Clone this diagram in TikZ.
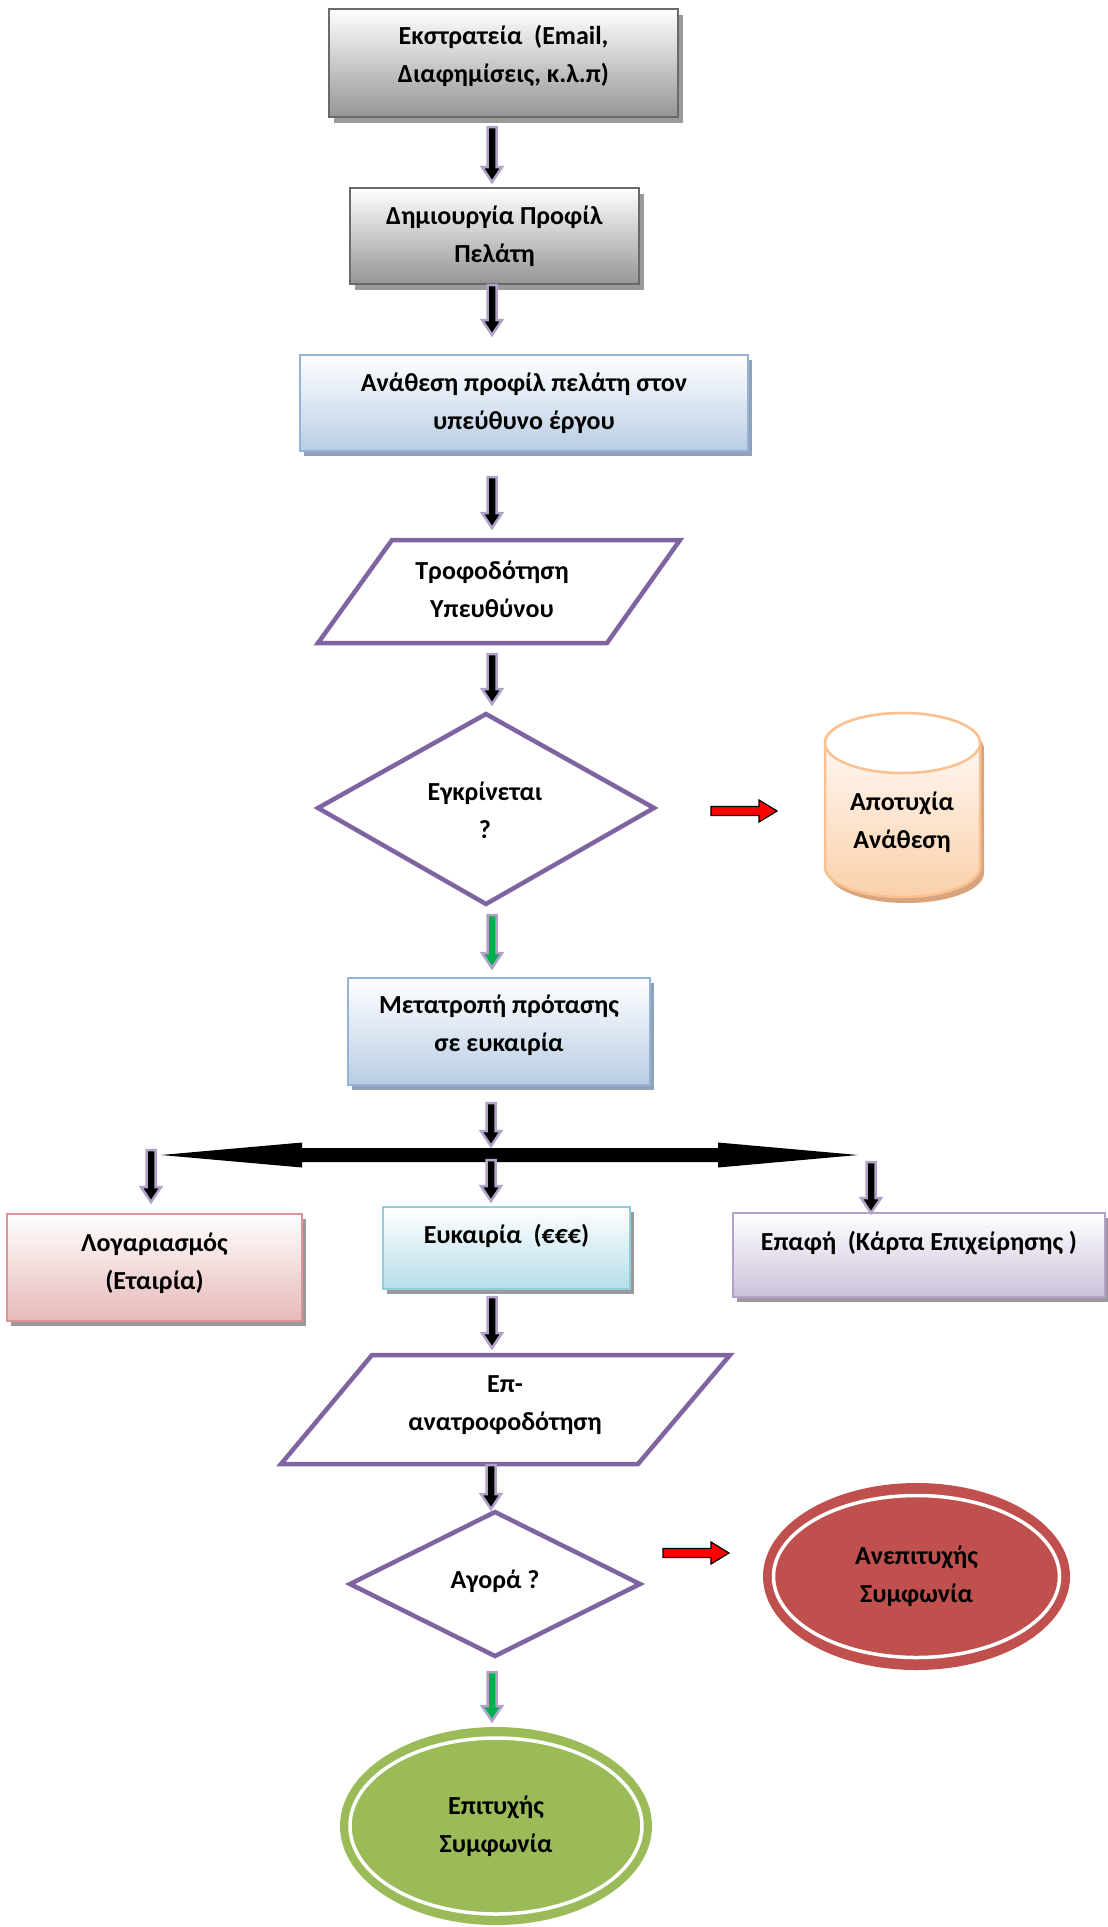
\documentclass[tikz,border=0pt]{standalone}
\usepackage{fontspec}
\setmainfont{Carlito}
\usetikzlibrary{shadows,calc,shapes.geometric}

\definecolor{grayB}{HTML}{959595}
\definecolor{grayEdge}{HTML}{6A6A6A}
\definecolor{blueB}{HTML}{B9CDE5}
\definecolor{blueEdge}{HTML}{95B3D7}
\definecolor{blueShadow}{HTML}{8FA2B8}
\definecolor{purp}{HTML}{8064A2}
\definecolor{lav}{HTML}{B3A2C7}
\definecolor{lavB}{HTML}{CCC1DA}
\definecolor{arrshadecol}{HTML}{A79DB5}
\definecolor{pinkB}{HTML}{E6B9B8}
\definecolor{pinkEdge}{HTML}{D99694}
\definecolor{aquaB}{HTML}{B7DEE8}
\definecolor{aquaEdge}{HTML}{93CDDD}
\definecolor{peachB}{HTML}{FBD0AA}
\definecolor{peachEdge}{HTML}{FAC090}
\definecolor{peachShadow}{HTML}{D8A47C}
\definecolor{redE}{HTML}{C0504D}
\definecolor{greenE}{HTML}{9BBB59}
\definecolor{arrGreen}{HTML}{00B050}
\definecolor{boxShadow}{HTML}{9A9A9A}

% vertical block arrow between two named coordinates
\newcommand\dnarrow[3][black]{%
  \fill[arrshadecol,xshift=3pt,yshift=-2pt] let \p1=(#2),\p2=(#3) in
    (\x1-4.5pt,\y1) -- (\x1+4.5pt,\y1) -- (\x1+4.5pt,\y2+15pt) -- (\x1+10pt,\y2+15pt)
    -- (\x1,\y2) -- (\x1-10pt,\y2+15pt) -- (\x1-4.5pt,\y2+15pt) -- cycle;
  \filldraw[fill=#1,draw=lav,line width=2.5pt,line join=miter] let \p1=(#2),\p2=(#3) in
    (\x1-4.5pt,\y1) -- (\x1+4.5pt,\y1) -- (\x1+4.5pt,\y2+15pt) -- (\x1+10pt,\y2+15pt)
    -- (\x1,\y2) -- (\x1-10pt,\y2+15pt) -- (\x1-4.5pt,\y2+15pt) -- cycle;}

% horizontal red block arrow
\newcommand\rtarrow[2]{%
  \filldraw[fill=red,draw=black,line width=1.2pt] let \p1=(#1),\p2=(#2) in
    (\x1,\y1+4.5pt) -- (\x2-18pt,\y1+4.5pt) -- (\x2-18pt,\y1+11pt) -- (\x2,\y1)
    -- (\x2-18pt,\y1-11pt) -- (\x2-18pt,\y1-4.5pt) -- (\x1,\y1-4.5pt) -- cycle;}

\tikzset{
  txt/.style={align=center,font=\fontsize{26}{38}\selectfont\bfseries,inner sep=0pt},
  box/.style={txt,rectangle,line width=2.5pt,shading=axis,top color=white},
  grbox/.style={box,draw=grayEdge,bottom color=grayB,
    drop shadow={shadow xshift=5pt,shadow yshift=-6pt,opacity=1,fill=boxShadow}},
  blbox/.style={box,draw=blueEdge,bottom color=blueB,
    drop shadow={shadow xshift=4pt,shadow yshift=-5pt,opacity=1,fill=blueShadow}},
  pkbox/.style={box,draw=pinkEdge,bottom color=pinkB,
    drop shadow={shadow xshift=4pt,shadow yshift=-5pt,opacity=1,fill=boxShadow}},
  aqbox/.style={box,draw=aquaEdge,bottom color=aquaB,
    drop shadow={shadow xshift=4pt,shadow yshift=-5pt,opacity=1,fill=boxShadow}},
  lvbox/.style={box,draw=lav,bottom color=lavB,
    drop shadow={shadow xshift=4pt,shadow yshift=-5pt,opacity=1,fill=boxShadow}},
  purpline/.style={draw=purp,line width=4.5pt,fill=white,line join=miter},
  oval/.style={txt,ellipse,inner sep=0pt},
  ring/.style={draw=white,line width=3.5pt},
}

\begin{document}
\begin{tikzpicture}[x=1pt,y=-1pt]
\useasboundingbox (0,0) rectangle (1108,1927);

% process boxes
\node[grbox,minimum width=349pt,minimum height=108pt,text depth=18pt] (camp) at (503.5,63)
  {Εκστρατεία\ \ (Email,\\Διαφημίσεις, κ.λ.π)};
\node[grbox,minimum width=289pt,minimum height=96pt] (prof) at (494.5,236)
  {Δημιουργία Προφίλ\\Πελάτη};
\node[blbox,minimum width=448pt,minimum height=96pt] (assign) at (524,403)
  {Ανάθεση προφίλ πελάτη στον\\υπεύθυνο έργου};

% input parallelogram
\path[purpline] (392,540) -- (680,540) -- (607,643) -- (318,643) -- cycle;
\node[txt] (feed) at (492,589) {Τροφοδότηση\\Υπευθύνου};

% decision 1
\path[purpline] (318,808) -- (486,714) -- (654,808) -- (486,904) -- cycle;
\node[txt] (appr) at (485,810) {Εγκρίνεται\\?};

% cylinder
\begin{scope}[xshift=4pt,yshift=-6pt]
\fill[peachShadow] (825,743) -- (825,867) arc[start angle=180,end angle=0,x radius=77.5,y radius=30]
  -- (980,743) arc[start angle=0,end angle=-180,x radius=77.5,y radius=30] -- cycle;
\end{scope}
\path[draw=peachEdge,line width=2.5pt,shading=axis,top color=white,bottom color=peachB]
  (825,743) -- (825,867) arc[start angle=180,end angle=0,x radius=77.5,y radius=30]
  -- (980,743) arc[start angle=0,end angle=-180,x radius=77.5,y radius=30] -- cycle;
\filldraw[fill=white,draw=peachEdge,line width=2.5pt] (902.5,743) ellipse[x radius=77.5,y radius=30];
\node[txt] (fail) at (902,822) {Αποτυχία\\Ανάθεση};

% conversion box
\node[blbox,minimum width=302pt,minimum height=107pt,text depth=17pt] (conv) at (499,1031.5)
  {Μετατροπή πρότασης\\σε ευκαιρία};

% three outcome boxes
\node[pkbox,minimum width=295pt,minimum height=107pt,text depth=12pt] (acct) at (154.5,1267.5)
  {Λογαριασμός\\(Εταιρία)};
\node[aqbox,minimum width=247pt,minimum height=82pt] (opp) at (506.5,1248) {};
\node[txt] (oppT) at (506.5,1236) {Ευκαιρία\ \ (€€€)};
\node[lvbox,minimum width=372pt,minimum height=84pt] (cont) at (919,1255) {};
\node[txt] (contT) at (919,1243) {Επαφή\ \ (Κάρτα Επιχείρησης )};

% feedback parallelogram
\path[purpline] (372,1355) -- (730,1355) -- (638,1464) -- (281,1464) -- cycle;
\node[txt] (refeed) at (505,1405) {Επ-\\ανατροφοδότηση};

% decision 2
\path[purpline] (350,1584) -- (495,1512) -- (640,1584) -- (495,1656) -- cycle;
\node[txt] (buy) at (495,1581) {Αγορά ?};

% end ovals
\node[oval,fill=redE,minimum width=307pt,minimum height=187pt] (lost) at (916.5,1576.5)
  {Ανεπιτυχής\\Συμφωνία};
\draw[ring] (lost.center) ellipse[x radius=143,y radius=81];
\node[oval,fill=greenE,minimum width=312pt,minimum height=198pt] (won) at (496,1826)
  {Επιτυχής\\Συμφωνία};
\draw[ring] (won.center) ellipse[x radius=146,y radius=88];

% connector end points
\coordinate (a1t) at (492,127);  \coordinate (a1b) at (492,182);
\coordinate (a2t) at (492,285);  \coordinate (a2b) at (492,335);
\coordinate (a3t) at (492,477);  \coordinate (a3b) at (492,528);
\coordinate (a4t) at (492,654);  \coordinate (a4b) at (492,704);
\coordinate (a5t) at (492,915);  \coordinate (a5b) at (492,968);
\coordinate (a6t) at (491,1103); \coordinate (a6b) at (491,1146);
\coordinate (a7t) at (491,1160); \coordinate (a7b) at (491,1201);
\coordinate (a8t) at (151,1150); \coordinate (a8b) at (151,1202);
\coordinate (a9t) at (871,1162); \coordinate (a9b) at (871,1213);
\coordinate (a10t) at (492,1297); \coordinate (a10b) at (492,1348);
\coordinate (a11t) at (491,1465); \coordinate (a11b) at (491,1509);
\coordinate (a12t) at (492,1672); \coordinate (a12b) at (492,1721);
\coordinate (barL) at (161,1155); \coordinate (barR) at (858,1155);
\coordinate (r1s) at (711,811);  \coordinate (r1e) at (777,811);
\coordinate (r2s) at (663,1553); \coordinate (r2e) at (729,1553);

% split bar with two heads
\fill[black] let \p1=(barL),\p2=(barR) in
  (\x1,\y1) -- (\x1+141pt,\y1+12.5pt) -- (\x1+141pt,\y1+7pt) -- (\x2-140pt,\y1+7pt)
  -- (\x2-140pt,\y1+12.5pt) -- (\x2,\y2) -- (\x2-140pt,\y2-12.5pt) -- (\x2-140pt,\y2-7pt)
  -- (\x1+141pt,\y1-7pt) -- (\x1+141pt,\y1-12.5pt) -- cycle;

% flow arrows
\dnarrow{a1t}{a1b}
\dnarrow{a2t}{a2b}
\dnarrow{a3t}{a3b}
\dnarrow{a4t}{a4b}
\dnarrow[arrGreen]{a5t}{a5b}
\dnarrow{a6t}{a6b}
\dnarrow{a7t}{a7b}
\dnarrow{a8t}{a8b}
\dnarrow{a9t}{a9b}
\dnarrow{a10t}{a10b}
\dnarrow{a11t}{a11b}
\dnarrow[arrGreen]{a12t}{a12b}
\rtarrow{r1s}{r1e}
\rtarrow{r2s}{r2e}
\end{tikzpicture}
\end{document}
